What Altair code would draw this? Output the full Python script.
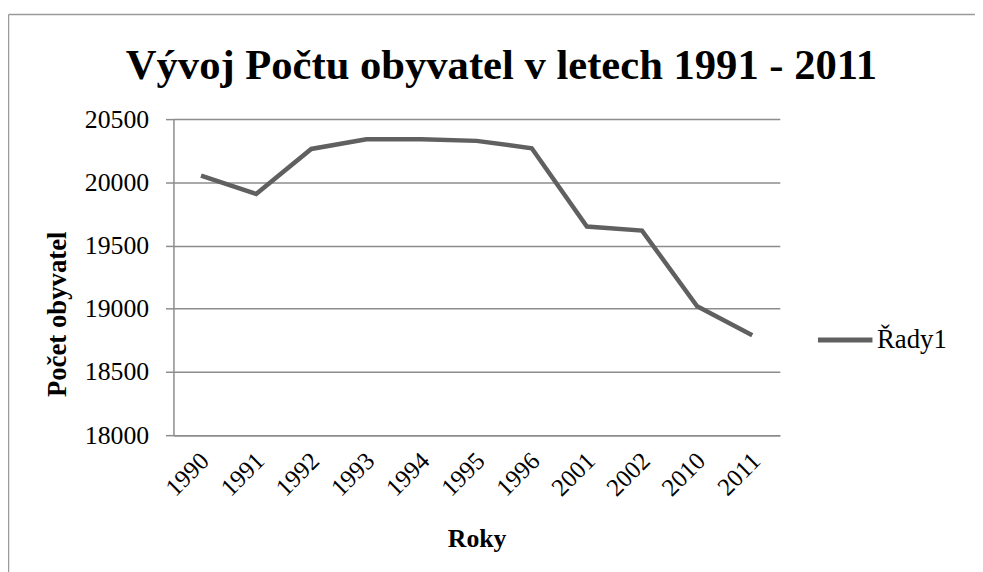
import altair as alt
import pandas as pd

years = ["1990", "1991", "1992", "1993", "1994", "1995", "1996", "2001", "2002", "2010", "2011"]
population = [20053, 19908, 20264, 20340, 20340, 20328, 20269, 19650, 19618, 19020, 18790]
series = ["Řady1"] * len(years)
chart_title = "Vývoj Počtu obyvatel v letech 1991 - 2011"

df = pd.DataFrame({"Rok": years, "Počet": population, "Řada": series})
single = pd.DataFrame({"t": [chart_title]})

FONT = "Liberation Serif"
GRID = "#8c8c8c"
LINE = "#606060"

line = alt.Chart(df).mark_line(strokeWidth=4.5, strokeJoin="miter", strokeCap="butt").encode(
    x=alt.X("Rok:O", sort=years, scale=alt.Scale(type="point", padding=0.5),
            axis=alt.Axis(title="Roky", labelAngle=-45, labelFontSize=25, labelFont=FONT,
                          labelColor="black", ticks=False, labelPadding=13, labelOffset=-5,
                          domainColor=GRID, domainWidth=1.5,
                          titleFont=FONT, titleFontSize=26, titleFontWeight="bold",
                          titleColor="black", titleY=104, titleBaseline="middle")),
    y=alt.Y("Počet:Q", scale=alt.Scale(domain=[18000, 20500], nice=False, zero=False),
            axis=alt.Axis(title="Počet obyvatel", values=[18000, 18500, 19000, 19500, 20000, 20500],
                          format="d", labelFontSize=26, labelFont=FONT, labelColor="black",
                          tickSize=8, tickColor=GRID, tickWidth=1.5, labelPadding=17,
                          domainColor=GRID, domainWidth=1.5, grid=True, gridColor=GRID,
                          gridWidth=1.5, titleFont=FONT, titleFontSize=27,
                          titleFontWeight="bold", titleColor="black",
                          titleX=-117, titleY=196.5, titleBaseline="middle")),
    color=alt.Color("Řada:N", scale=alt.Scale(range=[LINE]),
                    legend=alt.Legend(title=None, orient="none", legendX=648, legendY=193,
                                      symbolType="stroke", symbolSize=3025,
                                      symbolStrokeWidth=5, labelFont=FONT,
                                      labelFontSize=27, labelColor="black",
                                      labelOffset=2)),
)

title_text = alt.Chart(single).mark_text(font=FONT, fontSize=43, fontWeight="bold",
                                         color="black", align="center",
                                         baseline="alphabetic").encode(
    text="t:N", x=alt.value(331), y=alt.value(-40.5))

frame_left = alt.Chart(single).mark_rule(color="#9a9a9a", strokeWidth=1.5).encode(
    x=alt.value(-166.5), y=alt.value(-105.5), y2=alt.value(460))
frame_top = alt.Chart(single).mark_rule(color="#9a9a9a", strokeWidth=1.5).encode(
    x=alt.value(-166.5), x2=alt.value(812), y=alt.value(-105.5))

chart = alt.layer(frame_left, frame_top, title_text, line).properties(
    width=612,
    height=319,
    autosize=alt.AutoSizeParams(type="none"),
    padding={"left": 167, "top": 109.5, "right": 197, "bottom": 140},
).configure_view(stroke=None)

chart.save("out.html", embed_options={"renderer": "svg", "actions": False})
